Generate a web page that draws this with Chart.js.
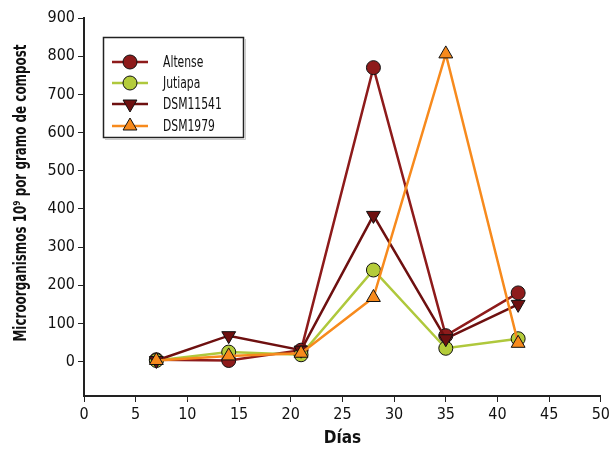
<!DOCTYPE html>
<html><head><meta charset="utf-8">
<script src="https://cdn.jsdelivr.net/npm/chart.js@4"></script>
<style>html,body{margin:0;padding:0;background:#fff}#wrap{width:613px;height:453px}</style>
</head><body><div id="wrap"><canvas id="c" width="613" height="453"></canvas></div>
<script>
const days = [7, 14, 21, 28, 35, 42];
const altense = [5, 3, 30, 770, 68, 180];
const jutiapa = [3, 25, 18, 240, 35, 60];
const dsm11541 = [3, 68, 30, 383, 60, 150];
const dsm1979 = [3, 15, 22, 168, 806, 48];
const seriesNames = ['Altense', 'Jutiapa', 'DSM11541', 'DSM1979'];
const xTicks = [0,5,10,15,20,25,30,35,40,45,50];
const yTicks = [0,100,200,300,400,500,600,700,800,900];
const yTitle = 'Microorganismos 10⁹ por gramo de compost';

const FONT = "'Liberation Sans Narrow','DejaVu Sans Condensed',sans-serif";
const styles = [
  {line:'#8e1b1b', fill:'#8e1b1b', pt:'circle', r:7, rot:0},
  {line:'#afc83c', fill:'#b4cc3a', pt:'circle', r:7, rot:0},
  {line:'#6e1010', fill:'#6e1010', pt:'triangle', r:8, rot:180},
  {line:'#f78a1d', fill:'#f78a1d', pt:'triangle', r:8, rot:0}
];
const vals = [altense, jutiapa, dsm11541, dsm1979];
const datasets = vals.map((v,i)=>({
  label: seriesNames[i],
  data: days.map((d,j)=>({x:d, y:v[j]})),
  order: vals.length - 1 - i,
  borderColor: styles[i].line,
  backgroundColor: styles[i].fill,
  borderWidth: 2.5,
  pointStyle: styles[i].pt,
  pointRotation: styles[i].rot,
  pointRadius: styles[i].r,
  pointBorderColor: '#111',
  pointBorderWidth: 1,
  pointBackgroundColor: styles[i].fill,
  tension: 0
}));

const legendPlugin = {
  id:'customLegend',
  afterDraw(chart){
    const ctx = chart.ctx;
    ctx.save();
    ctx.strokeStyle = '#222'; ctx.lineWidth = 1.5;
    ctx.strokeRect(103.5, 37.5, 140, 100);
    ctx.strokeStyle = '#ccc'; ctx.lineWidth = 1;
    ctx.beginPath(); ctx.moveTo(245.5,39); ctx.lineTo(245.5,139.5); ctx.lineTo(105,139.5); ctx.stroke();
    const ys = [62, 83, 104, 126];
    seriesNames.forEach((n,i)=>{
      const y = ys[i];
      ctx.strokeStyle = styles[i].line; ctx.lineWidth = 2.5;
      ctx.beginPath(); ctx.moveTo(112,y); ctx.lineTo(148,y); ctx.stroke();
      ctx.fillStyle = styles[i].fill; ctx.strokeStyle = '#111'; ctx.lineWidth = 1;
      Chart.helpers.drawPoint(ctx, {pointStyle: styles[i].pt, rotation: styles[i].rot, radius: styles[i].r, borderWidth:1}, 130, y);
      ctx.save();
      ctx.translate(163, y+1); ctx.scale(0.8, 1);
      ctx.fillStyle = '#111'; ctx.font = '15px ' + FONT; ctx.textBaseline = 'middle'; ctx.textAlign='left';
      ctx.fillText(n, 0, 0);
      ctx.restore();
    });
    // y axis title, condensed
    ctx.save();
    ctx.font = 'bold 17px ' + FONT;
    const w = ctx.measureText(yTitle).width;
    const target = 297;
    ctx.translate(22, 193);
    ctx.rotate(-Math.PI/2);
    ctx.scale(target / w, 1);
    ctx.fillStyle = '#111'; ctx.textAlign = 'center'; ctx.textBaseline = 'middle';
    ctx.fillText(yTitle, 0, 0);
    ctx.restore();
    ctx.restore();
  }
};

new Chart(document.getElementById('c'), {
  type: 'line',
  data: {datasets},
  options: {
    responsive:false, animation:false,
    layout:{padding:{top:18, right:12, left:4, bottom:0}},
    plugins:{legend:{display:false}, tooltip:{enabled:false}},
    scales:{
      x:{type:'linear', min:0, max:50,
        afterBuildTicks(s){ s.ticks = xTicks.map(v=>({value:v})); },
        afterFit(s){ s.height = 57; },
        grid:{drawOnChartArea:false, drawTicks:true, tickLength:6, color:'#222'},
        border:{color:'#222', width:2},
        ticks:{color:'#111', font:{family:FONT, size:16}, padding:3, maxRotation:0},
        title:{display:true, text:'Días', color:'#111', font:{family:FONT, size:17, weight:'bold'}, padding:{top:9}}
      },
      y:{type:'linear', min:-90, max:900,
        afterBuildTicks(s){ s.ticks = yTicks.map(v=>({value:v})); },
        afterFit(s){ s.width = 80; },
        grid:{drawOnChartArea:false, drawTicks:true, tickLength:6, color:'#222'},
        border:{color:'#222', width:2},
        ticks:{color:'#111', font:{family:FONT, size:16}, padding:3},
        title:{display:false}
      }
    }
  },
  plugins:[legendPlugin]
});
</script></body></html>
